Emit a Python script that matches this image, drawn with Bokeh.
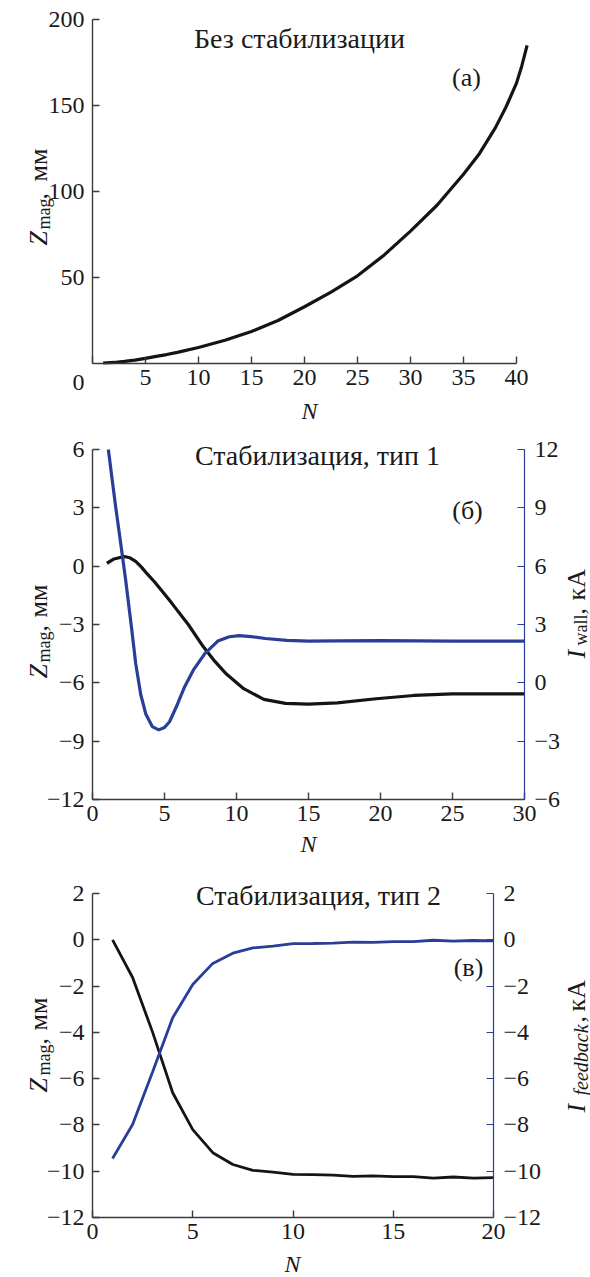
from math import pi
from bokeh.plotting import figure
from bokeh.models import Range1d, LinearAxis, FixedTicker, Label
from bokeh.layouts import column
from bokeh.embed import file_html
from bokeh.resources import INLINE

FONT = "Liberation Serif"
BLACK = "#141414"
BLUE = "#2a3d98"
AXIS = "#3a3a3a"
TXT = "#1a1a1a"

# ---------------- data ----------------
# (а) без стабилизации
a_n = [1.0, 2, 3, 4, 5, 6, 7, 8, 10, 12.5, 15, 17.5, 20, 22.5, 25, 27.5, 30, 32.5, 35, 36.5, 38, 39, 40, 40.5, 41]
a_z = [0.3, 0.6, 1.2, 2.0, 3.0, 4.1, 5.2, 6.5, 9.3, 13.5, 18.6, 25, 33, 41.5, 51, 63, 77, 92, 110, 122, 137, 149, 163, 173, 185]
a_xticks = [0, 5, 10, 15, 20, 25, 30, 35, 40]
a_yticks = [50, 100, 150, 200]

# (б) стабилизация, тип 1
b_n_z = [1.0, 1.5, 2.2, 2.6, 3.0, 3.4, 3.8, 4.3, 4.8, 5.5, 6.65, 7.7, 8.5, 9.3, 10.5, 11.9, 13.4, 15, 17, 19.7, 22.3, 25, 30]
b_z = [0.15, 0.37, 0.5, 0.43, 0.25, -0.05, -0.4, -0.8, -1.25, -1.9, -3.0, -4.15, -4.9, -5.55, -6.3, -6.85, -7.06, -7.1, -7.03, -6.82, -6.65, -6.57, -6.57]
b_n_i = [1.1, 1.6, 2.0, 2.3, 2.7, 3.0, 3.35, 3.7, 4.15, 4.6, 5.0, 5.35, 5.9, 6.4, 7.0, 7.8, 8.7, 9.5, 10.2, 11, 12, 13.5, 15, 17, 20, 25, 30]
b_i = [12, 9.1, 6.95, 5.3, 2.9, 1.0, -0.6, -1.6, -2.25, -2.42, -2.3, -2.0, -1.1, -0.2, 0.65, 1.5, 2.15, 2.37, 2.43, 2.38, 2.28, 2.18, 2.14, 2.16, 2.17, 2.15, 2.14]
b_xticks = [0, 5, 10, 15, 20, 25, 30]
b_yticks = [6, 3, 0, -3, -6, -9, -12]
b_rticks = [12, 9, 6, 3, 0, -3, -6]

# (в) стабилизация, тип 2
c_n = list(range(1, 21))
c_z = [0, -1.63, -4.0, -6.61, -8.2, -9.2, -9.71, -9.96, -10.04, -10.14, -10.15, -10.17, -10.22, -10.2, -10.23, -10.23, -10.3, -10.25, -10.3, -10.28]
c_i = [-9.45, -7.98, -5.7, -3.37, -1.93, -1.02, -0.58, -0.35, -0.27, -0.17, -0.16, -0.14, -0.1, -0.11, -0.08, -0.08, -0.02, -0.06, -0.03, -0.05]
c_xticks = [0, 5, 10, 15, 20]
c_yticks = [2, 0, -2, -4, -6, -8, -10, -12]
c_rticks = [2, 0, -2, -4, -6, -8, -10, -12]


def fmt(ticks):
    return {t: (("\u2212" + str(abs(t))) if t < 0 else str(t)) for t in ticks}


def span(p0, v0, p1, v1, lo, hi):
    """data range covering pixels lo..hi, given two pixel anchors"""
    k = (v1 - v0) / (p1 - p0)
    return (v0 + (lo - p0) * k, v0 + (hi - p0) * k)


def style_axis(ax, color, ticks, standoff, width=1.4):
    ax.ticker = FixedTicker(ticks=ticks)
    ax.major_label_overrides = fmt(ticks)
    ax.axis_line_color = color
    ax.axis_line_width = width
    ax.major_tick_line_color = color
    ax.major_tick_line_width = width
    ax.major_tick_in = 7
    ax.major_tick_out = 0
    ax.minor_tick_line_color = None
    ax.major_label_text_font = FONT
    ax.major_label_text_font_size = "24px"
    ax.major_label_text_color = TXT
    ax.major_label_standoff = standoff


class Panel:
    """one figure whose frame fills the whole canvas; axes sit at fixed data locations"""
    def __init__(self, top, height, xpx, xval, ypx, yval):
        self.top, self.h = top, height
        self.xr = span(xpx[0], xval[0], xpx[1], xval[1], 0, 590)
        self.yr = span(ypx[0], yval[0], ypx[1], yval[1], top + height, top)
        self.p = figure(width=590, height=height, x_range=Range1d(*self.xr), y_range=Range1d(*self.yr),
                        output_backend="svg", toolbar_location=None,
                        x_axis_location=None, y_axis_location=None,
                        min_border_left=0, min_border_right=0, min_border_top=0, min_border_bottom=0)
        p = self.p
        p.outline_line_color = None
        p.xgrid.visible = False
        p.ygrid.visible = False
        p.background_fill_color = "white"
        p.border_fill_color = "white"
        try:
            p.frame_align = False
        except Exception:
            pass

    def dx(self, px):
        return self.xr[0] + px / 590 * (self.xr[1] - self.xr[0])

    def dy(self, py):
        return self.yr[0] + (self.top + self.h - py) / self.h * (self.yr[1] - self.yr[0])

    def text(self, px, py, s, size="24px", style="normal"):
        self.p.add_layout(Label(x=self.dx(px), y=self.dy(py), text=s, text_font=FONT,
                                text_font_size=size, text_font_style=style, text_color=TXT,
                                text_align="center", text_baseline="middle"))

    def vtext(self, px, py, s, size="26px", style="normal"):
        self.p.add_layout(Label(x=self.dx(px), y=self.dy(py), text=s, angle=pi / 2,
                                text_font=FONT, text_font_size=size, text_font_style=style,
                                text_color=TXT, text_align="left", text_baseline="alphabetic"))

    def xaxis(self, ticks, bounds, at):
        ax = LinearAxis(fixed_location=at)
        style_axis(ax, AXIS, ticks, 6)
        ax.bounds = bounds
        self.p.add_layout(ax, "below")
        return ax

    def yaxis(self, ticks, bounds, at, side="left", color=AXIS, standoff=8, rname="default", width=1.4):
        ax = LinearAxis(fixed_location=at, y_range_name=rname)
        style_axis(ax, color, ticks, standoff, width)
        ax.bounds = bounds
        self.p.add_layout(ax, side)
        return ax


# ---------------- panel (а) ----------------
A = Panel(0, 425, (92, 516), (0, 40), (363, 19), (0, 200))
pa = A.p
xa = A.xaxis(a_xticks, (0, 40), 0)
xa.major_label_overrides = {**fmt(a_xticks), 0: ""}
A.yaxis(a_yticks, (0, 200), 0)
pa.line(a_n, a_z, line_color=BLACK, line_width=3.2)
A.text(78, 382, "0")
A.text(309, 410, "N", style="italic")
A.text(299, 38, "Без стабилизации", size="28px")
A.text(466, 77, "(а)", size="26px")
A.vtext(38, 245, "Z", style="italic")
A.vtext(43, 229, "mag", size="18px")
A.vtext(38, 199, ",")
A.vtext(38, 181, "мм")

# ---------------- panel (б) ----------------
B = Panel(425, 440, (92, 524), (0, 30), (799, 449), (-12, 6))
pb = B.p
ri = span(799, -6, 449, 12, 865, 425)
pb.extra_y_ranges = {"i": Range1d(*ri)}
B.xaxis(b_xticks, (0, 30), -12)
B.yaxis(b_yticks, (-12, 6), 0)
B.yaxis(b_rticks, (-6, 12), 30, side="right", color=BLUE, standoff=10, rname="i", width=1.2)
pb.line(b_n_z, b_z, line_color=BLACK, line_width=3.2)
pb.line(b_n_i, b_i, line_color=BLUE, line_width=3.2, y_range_name="i")
B.text(308, 843, "N", style="italic")
B.text(317, 455, "Стабилизация, тип 1", size="28px")
B.text(467, 510, "(б)", size="26px")
B.vtext(38, 678, "Z", style="italic")
B.vtext(43, 662, "mag", size="18px")
B.vtext(38, 631, ",")
B.vtext(38, 617, "мм")
B.vtext(576, 658, "I", style="italic")
B.vtext(580, 645, "wall", size="18px")
B.vtext(576, 614, ",")
B.vtext(576, 600, "кА")

# ---------------- panel (в) ----------------
C = Panel(865, 412, (92, 493), (0, 20), (1217, 893), (-12, 2))
pc = C.p
rc_range = span(1217, -12, 893, 2, 1277, 865)
pc.extra_y_ranges = {"i": Range1d(*rc_range)}
C.xaxis(c_xticks, (0, 20), -12)
C.yaxis(c_yticks, (-12, 2), 0)
C.yaxis(c_rticks, (-12, 2), 20, side="right", color=BLUE, standoff=10, rname="i", width=1.2)
pc.line(c_n, c_z, line_color=BLACK, line_width=2.8)
pc.line(c_n, c_i, line_color=BLUE, line_width=2.8, y_range_name="i")
C.text(292, 1263, "N", style="italic")
C.text(318, 895, "Стабилизация, тип 2", size="28px")
C.text(468, 967, "(в)", size="26px")
C.vtext(38, 1092, "Z", style="italic")
C.vtext(43, 1075, "mag", size="18px")
C.vtext(38, 1044, ",")
C.vtext(38, 1030, "мм")
C.vtext(576, 1112, "I", style="italic")
C.vtext(580, 1095, "feedback", size="20px", style="italic")
C.vtext(576, 1022, ",")
C.vtext(576, 1011, "кА")

layout = column(pa, pb, pc, spacing=0)
open("out.html", "w").write(file_html(layout, INLINE))
